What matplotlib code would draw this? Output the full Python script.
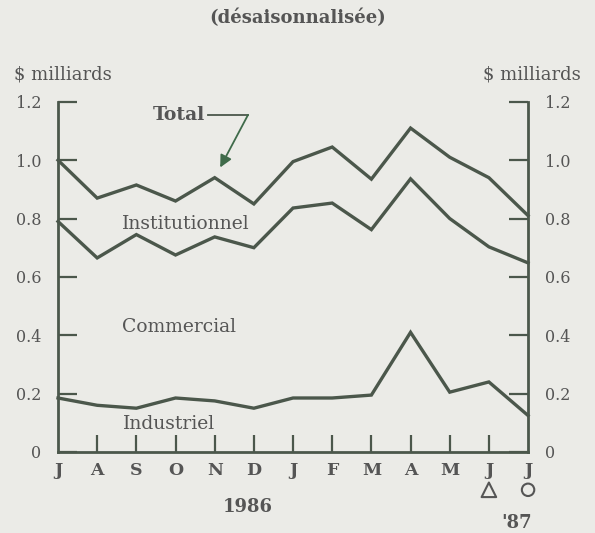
import matplotlib.pyplot as plt
from matplotlib.transforms import blended_transform_factory

months = ["J", "A", "S", "O", "N", "D", "J", "F", "M", "A", "M", "J", "J"]
total = [1.00, 0.87, 0.915, 0.86, 0.94, 0.85, 0.995, 1.045, 0.935, 1.11, 1.01, 0.94, 0.81]
commercial_top = [0.79, 0.665, 0.745, 0.675, 0.737, 0.70, 0.836, 0.853, 0.762, 0.936, 0.80, 0.703, 0.648]
industriel = [0.185, 0.16, 0.15, 0.185, 0.175, 0.15, 0.185, 0.185, 0.195, 0.41, 0.205, 0.24, 0.125]
yticks = [0, 0.2, 0.4, 0.6, 0.8, 1.0, 1.2]
ytick_labels = ["0", "0.2", "0.4", "0.6", "0.8", "1.0", "1.2"]

BG = "#ebebe7"
INK = "#555555"
LINE = "#4b574b"

plt.rcParams["font.family"] = ["DejaVu Serif"]

fig = plt.figure(figsize=(5.95, 5.33), dpi=100, facecolor=BG)
ax = fig.add_axes([0.0975, 0.152, 0.79, 0.657])
ax.set_facecolor(BG)

x = list(range(len(months)))
for series in (total, commercial_top, industriel):
    ax.plot(x, series, color=LINE, lw=2.4, solid_joinstyle="miter", clip_on=False, zorder=3)

ax.set_xlim(0, 12)
ax.set_ylim(0, 1.2)

ax.spines["top"].set_visible(False)
for side in ("left", "right", "bottom"):
    ax.spines[side].set_color(LINE)
    ax.spines[side].set_linewidth(2)

ax.set_yticks(yticks)
ax.set_yticklabels(ytick_labels)
ax.tick_params(axis="y", direction="in", length=14, width=1.6, color=LINE,
               labelsize=11.5, labelcolor=INK, pad=12, left=True, right=True,
               labelleft=True, labelright=True)
ax.set_xticks(x[1:-1])
ax.set_xticklabels([])
ax.tick_params(axis="x", direction="in", length=12, width=1.6, color=LINE)

# month letters and years under the axis
tr = blended_transform_factory(ax.transData, ax.transAxes)
for i, m in enumerate(months):
    ax.text(i, -0.052, m, transform=tr, ha="center", va="center",
            fontsize=12.5, fontweight="bold", color=INK)
ax.text(4.85, -0.157, "1986", transform=tr, ha="center", va="center",
        fontsize=13, fontweight="bold", color=INK)
ax.text(11.7, -0.203, "'87", transform=tr, ha="center", va="center",
        fontsize=13, fontweight="bold", color=INK)
ax.scatter([11], [-0.108], transform=tr, marker="^", s=110, facecolors="none",
           edgecolors=INK, linewidths=1.5, clip_on=False)
ax.scatter([12], [-0.108], transform=tr, marker="o", s=80, facecolors="none",
           edgecolors=INK, linewidths=1.5, clip_on=False)

# series labels
ax.text(3.27, 0.78, "Institutionnel", ha="center", va="center", fontsize=13.5, color=INK)
ax.text(3.09, 0.43, "Commercial", ha="center", va="center", fontsize=13.5, color=INK)
ax.text(2.83, 0.096, "Industriel", ha="center", va="center", fontsize=13.5, color=INK)
ax.text(3.75, 1.155, "Total", ha="right", va="center", fontsize=13.5,
        fontweight="bold", color=INK)
ax.plot([3.83, 4.85], [1.155, 1.155], color=LINE, lw=1.3, clip_on=False)
ax.annotate("", xy=(4.14, 0.975), xytext=(4.85, 1.155),
            arrowprops=dict(arrowstyle="-|>", color="#3f6b4a", lw=1.3,
                            mutation_scale=18, shrinkA=0, shrinkB=0))

fig.text(0.5, 0.966, "(désaisonnalisée)", ha="center", va="center",
         fontsize=13, fontweight="bold", color=INK)
fig.text(0.024, 0.861, "$ milliards", ha="left", va="center", fontsize=13, color=INK)
fig.text(0.976, 0.861, "$ milliards", ha="right", va="center", fontsize=13, color=INK)

fig.savefig("out.png", dpi=100, facecolor=BG)
